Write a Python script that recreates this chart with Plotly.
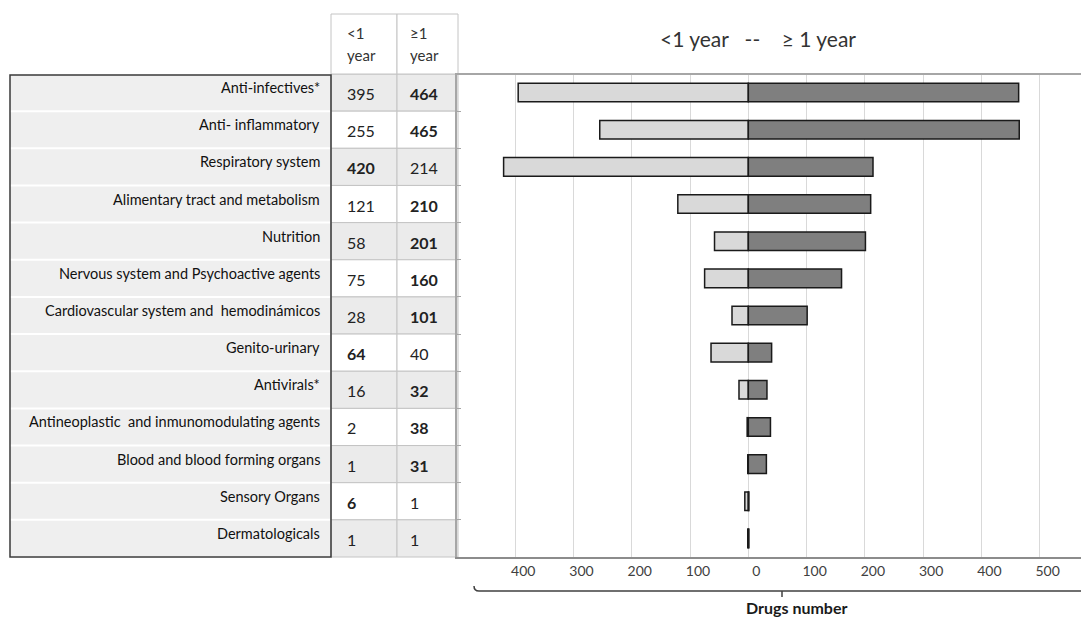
import plotly.graph_objects as go

# Drug classes, top to bottom
categories = [
    "Anti-infectives*",
    "Anti- inflammatory",
    "Respiratory system",
    "Alimentary tract and metabolism",
    "Nutrition",
    "Nervous system and Psychoactive agents",
    "Cardiovascular system and  hemodinámicos",
    "Genito-urinary",
    "Antivirals*",
    "Antineoplastic  and inmunomodulating agents",
    "Blood and blood forming organs",
    "Sensory Organs",
    "Dermatologicals",
]
under_one_year = [395, 255, 420, 121, 58, 75, 28, 64, 16, 2, 1, 6, 1]
one_year_plus = [464, 465, 214, 210, 201, 160, 101, 40, 32, 38, 31, 1, 1]

tick_values = [-400, -300, -200, -100, 0, 100, 200, 300, 400, 500]
tick_labels = ["400", "300", "200", "100", "0", "100", "200", "300", "400", "500"]

header_left = ["&lt;1", "year"]
header_right = ["≥1", "year"]
chart_title = "&lt;1 year\u00a0\u00a0\u00a0--\u00a0\u00a0\u00a0\u00a0≥ 1 year"
axis_caption = "Drugs number"

W, H = 1081, 618
FONT = "Lato, 'Open Sans', sans-serif"


def px(x):
    return x / W


def py(y):
    return 1 - y / H


# page geometry (pixels)
plot_left, plot_right = 457, W
plot_top, plot_bottom = 74, 557
row_h = (plot_bottom - plot_top) / len(categories)
label_x0, label_x1 = 10, 331
col_edges = [331, 397, 458]
header_top = 14

fig = go.Figure()
fig.add_trace(go.Bar(
    y=categories, x=[-v for v in under_one_year], orientation="h",
    marker=dict(color="#d9d9d9", line=dict(color="#1a1a1a", width=1.5)),
    name="<1 year", hoverinfo="skip",
))
fig.add_trace(go.Bar(
    y=categories, x=one_year_plus, orientation="h",
    marker=dict(color="#7f7f7f", line=dict(color="#1a1a1a", width=1.5)),
    name="≥1 year", hoverinfo="skip",
))

shapes = []
annotations = []

# label column: shaded rows with thin white separators inside a dark frame
for i in range(len(categories)):
    y0 = plot_top + i * row_h
    shapes.append(dict(type="rect", xref="paper", yref="paper",
                       x0=px(label_x0), x1=px(label_x1),
                       y0=py(y0 + row_h - 1), y1=py(y0 + 1),
                       fillcolor="#efefef", line=dict(width=0), layer="below"))
shapes.append(dict(type="rect", xref="paper", yref="paper",
                   x0=px(label_x0), x1=px(label_x1),
                   y0=py(plot_bottom), y1=py(plot_top + 1),
                   line=dict(color="#3a3a3a", width=1.5)))

# value columns
for i in range(len(categories)):
    y0 = plot_top + i * row_h
    fill = "#ebebeb" if i % 2 == 0 else "#ffffff"
    for c in range(2):
        shapes.append(dict(type="rect", xref="paper", yref="paper",
                           x0=px(col_edges[c]), x1=px(col_edges[c + 1]),
                           y0=py(y0 + row_h), y1=py(y0),
                           fillcolor=fill, line=dict(color="#c4c4c4", width=1),
                           layer="below"))
# header cells
for c in range(2):
    shapes.append(dict(type="rect", xref="paper", yref="paper",
                       x0=px(col_edges[c]), x1=px(col_edges[c + 1]),
                       y0=py(plot_top), y1=py(header_top),
                       fillcolor="#ffffff", line=dict(color="#c4c4c4", width=1),
                       layer="below"))

# top rule over the chart
shapes.append(dict(type="line", xref="paper", yref="paper",
                   x0=px(455), x1=1, y0=py(plot_top), y1=py(plot_top),
                   line=dict(color="#a6a6a6", width=2)))

# brace under the axis
bx0, bx1, by = 474, W, 591
brace_path = (f"M {px(bx0)},{py(by - 5)} Q {px(bx0)},{py(by)} {px(bx0 + 5)},{py(by)} "
              f"L {px(bx1)},{py(by)}")
shapes.append(dict(type="path", xref="paper", yref="paper", path=brace_path,
                   line=dict(color="#404040", width=1.5)))
shapes.append(dict(type="line", xref="paper", yref="paper",
                   x0=px(782), x1=px(782), y0=py(by), y1=py(by + 6),
                   line=dict(color="#404040", width=1.5)))

# row labels and values
for i, (name, a, b) in enumerate(zip(categories, under_one_year, one_year_plus)):
    yc = plot_top + (i + 0.5) * row_h
    annotations.append(dict(text=name, x=px(322), y=py(yc - 5), xref="paper", yref="paper",
                            xanchor="right", yanchor="middle", showarrow=False,
                            font=dict(family=FONT, size=14.5, color="#111111")))
    for val, other, xl in ((a, b, 345), (b, a, 408)):
        txt = f"<b>{val}</b>" if val > other else str(val)
        annotations.append(dict(text=txt, x=px(xl), y=py(yc + 1), xref="paper", yref="paper",
                                xanchor="left", yanchor="middle", showarrow=False,
                                font=dict(family=FONT, size=16, color="#222222")))

# header text
for lines, xl in ((header_left, 345), (header_right, 408)):
    for j, t in enumerate(lines):
        annotations.append(dict(text=t, x=px(xl), y=py(33 + 22 * j), xref="paper", yref="paper",
                                xanchor="left", yanchor="middle", showarrow=False,
                                font=dict(family=FONT, size=15, color="#333333")))

annotations.append(dict(text=chart_title, x=px(758), y=py(39), xref="paper", yref="paper",
                        xanchor="center", yanchor="middle", showarrow=False,
                        font=dict(family=FONT, size=21, color="#333333")))
annotations.append(dict(text=f"<b>{axis_caption}</b>", x=px(796), y=py(607),
                        xref="paper", yref="paper", xanchor="center", yanchor="middle",
                        showarrow=False, font=dict(family=FONT, size=16, color="#1a1a1a")))

fig.update_layout(
    width=W, height=H,
    margin=dict(l=0, r=0, t=0, b=0),
    paper_bgcolor="white", plot_bgcolor="white",
    barmode="relative", bargap=0.5,
    showlegend=False,
    shapes=shapes, annotations=annotations,
    font=dict(family=FONT),
    xaxis=dict(
        domain=[px(plot_left), px(plot_right)],
        range=[-500, 571],
        tickvals=tick_values, ticktext=tick_labels,
        showgrid=True, gridcolor="#d9d9d9", gridwidth=1,
        zeroline=False,
        showline=True, linecolor="#8c8c8c", linewidth=1.5,
        ticks="", ticklabelshift=8,
        tickfont=dict(family=FONT, size=14, color="#404040"),
    ),
    yaxis=dict(
        domain=[py(plot_bottom), py(plot_top)],
        autorange="reversed",
        showticklabels=False, showgrid=False, zeroline=False,
        showline=True, linecolor="#a6a6a6", linewidth=2,
        ticks="inside", ticklen=4, tickcolor="#a6a6a6", tickson="boundaries",
    ),
)

fig.write_html("out.html")
